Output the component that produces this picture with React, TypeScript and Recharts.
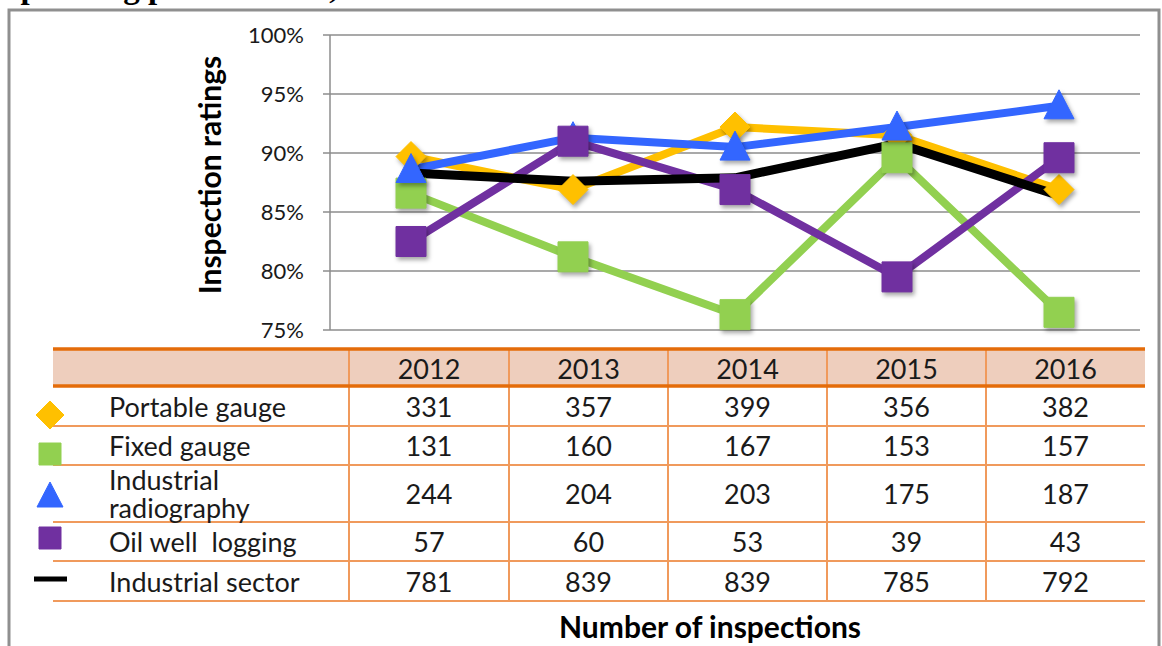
import React from "react";
import { LineChart, Line, XAxis, YAxis, CartesianGrid } from "recharts";

// chart values (percent)
const years = ["2012", "2013", "2014", "2015", "2016"];
const portableRating = [89.7, 86.9, 92.2, 91.5, 86.9];
const fixedRating = [86.6, 81.2, 76.3, 89.6, 76.5];
const radiographyRating = [88.6, 91.3, 90.5, 92.2, 94.0];
const oilRating = [82.5, 91.0, 86.9, 79.5, 89.6];
const sectorRating = [88.3, 87.6, 87.9, 90.8, 86.4];
const yTicks = [75, 80, 85, 90, 95, 100];

// table counts
const portableCount = [331, 357, 399, 356, 382];
const fixedCount = [131, 160, 167, 153, 157];
const radiographyCount = [244, 204, 203, 175, 187];
const oilCount = [57, 60, 53, 39, 43];
const sectorCount = [781, 839, 839, 785, 792];

const data = years.map((y, i) => ({
    year: y,
    portable: portableRating[i],
    fixed: fixedRating[i],
    radiography: radiographyRating[i],
    oil: oilRating[i],
    sector: sectorRating[i],
}));

const FONT = "Lato, 'DejaVu Sans', sans-serif";
const GRID = "#8c8c8c";
const ORANGE = "#e46c0a";
const ORANGE_LIGHT = "#f09a5c";
const shadow = { filter: "drop-shadow(2px 3px 2px rgba(0,0,0,0.35))" };

type Shape = "diamond" | "square" | "triangle";

const markerPath = (shape: Shape, cx: number, cy: number, r = 15) => {
    if (shape === "diamond") return `M${cx},${cy - r} L${cx + r},${cy} L${cx},${cy + r} L${cx - r},${cy} Z`;
    if (shape === "triangle") return `M${cx},${cy - r - 1} L${cx + r},${cy + r - 2} L${cx - r},${cy + r - 2} Z`;
    return `M${cx - r},${cy - r} h${2 * r} v${2 * r} h${-2 * r} Z`;
};

const makeDot = (shape: Shape, color: string) => (props: any) => {
    const { cx, cy, index } = props;
    if (cx == null || cy == null) return <g key={index} />;
    return (
        <path
            key={`${shape}-${index}`}
            d={markerPath(shape, cx, cy)}
            fill={color}
            stroke={color}
            strokeWidth={1}
            strokeLinejoin="round"
            style={shadow}
        />
    );
};

const series = [
    { key: "portable", name: "Portable gauge", color: "#ffc000", shape: "diamond" as Shape, counts: portableCount, legendY: 415, legendR: 14 },
    { key: "fixed", name: "Fixed gauge", color: "#92d050", shape: "square" as Shape, counts: fixedCount, legendY: 454, legendR: 11 },
    { key: "radiography", name: "Industrial\nradiography", color: "#3366ff", shape: "triangle" as Shape, counts: radiographyCount, legendY: 496, legendR: 13 },
    { key: "oil", name: "Oil well  logging", color: "#7030a0", shape: "square" as Shape, counts: oilCount, legendY: 538, legendR: 11 },
    { key: "sector", name: "Industrial sector", color: "#000000", shape: null, counts: sectorCount, legendY: 579, legendR: 0 },
];

// table geometry
const colEdges = [53, 349, 509, 668, 827, 986, 1145];
const rowLines = [386, 426, 465, 522, 561, 601];

const Table = () => {
    return (
        <g fontFamily={FONT} fill="#1a1a1a">
            <rect x={53} y={349} width={1092} height={37} fill="#eecebd" />
            {rowLines.slice(1).map((y) => (
                <line key={y} x1={53} x2={1145} y1={y} y2={y} stroke={ORANGE_LIGHT} strokeWidth={2} />
            ))}
            {colEdges.slice(1, 6).map((x) => (
                <line key={x} x1={x} x2={x} y1={348} y2={601} stroke={ORANGE_LIGHT} strokeWidth={2} />
            ))}
            <line x1={53} x2={1145} y1={349} y2={349} stroke={ORANGE} strokeWidth={3.5} />
            <line x1={53} x2={1145} y1={386} y2={386} stroke={ORANGE} strokeWidth={3.5} />
            {years.map((y, i) => (
                <text key={y} x={(colEdges[i + 1] + colEdges[i + 2]) / 2} y={368} textAnchor="middle" dominantBaseline="central" fontSize={27}>
                    {y}
                </text>
            ))}
            {series.map((s, r) => {
                const top = rowLines[r];
                const bottom = rowLines[r + 1];
                const mid = (top + bottom) / 2;
                const lines = s.name.split("\n");
                return (
                    <g key={s.key}>
                        {s.shape ? (
                            <path d={markerPath(s.shape, 50, s.legendY, s.legendR)} fill={s.color} stroke={s.color} strokeWidth={1} strokeLinejoin="round" />
                        ) : (
                            <rect x={34} y={s.legendY - 2.5} width={33} height={5} fill="#000" />
                        )}
                        {lines.map((t, j) => (
                            <text key={j} x={109} y={mid + (j - (lines.length - 1) / 2) * 28} dominantBaseline="central" fontSize={27} xmlSpace="preserve">
                                {t}
                            </text>
                        ))}
                        {s.counts.map((c, i) => (
                            <text key={i} x={(colEdges[i + 1] + colEdges[i + 2]) / 2} y={mid} textAnchor="middle" dominantBaseline="central" fontSize={27}>
                                {c}
                            </text>
                        ))}
                    </g>
                );
            })}
        </g>
    );
};

export default function App() {
    return (
        <div style={{ position: "absolute", left: 0, top: 0, width: 1162, height: 646, background: "#fff", overflow: "hidden" }}>
            <div style={{ position: "absolute", left: 0, top: 0 }}>
                <LineChart width={1162} height={646} data={data} margin={{ top: 35, right: 22, bottom: 316, left: 270 }}>
                    <CartesianGrid horizontal vertical={false} stroke={GRID} strokeWidth={1.5} />
                    <XAxis dataKey="year" hide padding={{ left: 81, right: 81 }} />
                    <YAxis
                        width={60}
                        domain={[75, 100]}
                        ticks={yTicks}
                        interval={0}
                        tickFormatter={(v: number) => `${v}%`}
                        tick={{ fill: "#1a1a1a", fontSize: 22, fontFamily: FONT }}
                        tickSize={7}
                        tickMargin={19}
                        axisLine={{ stroke: GRID, strokeWidth: 1.5 }}
                        tickLine={{ stroke: GRID, strokeWidth: 1.5 }}
                    />
                    {series.map((s) => (
                        <Line
                            key={s.key}
                            dataKey={s.key}
                            name={s.name}
                            stroke={s.color}
                            strokeWidth={s.shape ? 8 : 9}
                            strokeLinecap="round"
                            strokeLinejoin="round"
                            dot={s.shape ? makeDot(s.shape, s.color) : false}
                            activeDot={false}
                            isAnimationActive={false}
                        />
                    ))}
                </LineChart>
            </div>
            <svg width={1162} height={646} style={{ position: "absolute", left: 0, top: 0, pointerEvents: "none" }}>
                <text x={4} y={-2} fontFamily="'Liberation Serif', serif" fontWeight="bold" fontSize={33} fill="#000">
                    operating performance, 2012-2016
                </text>
                <path d="M9,646 V10 H1159 V646" fill="none" stroke="#8f8f8f" strokeWidth={3} />
                <text
                    transform="translate(209,175) rotate(-90)"
                    textAnchor="middle"
                    dominantBaseline="central"
                    fontFamily={FONT}
                    fontWeight="bold"
                    fontSize={30}
                    fill="#000"
                >
                    Inspection ratings
                </text>
                <Table />
                <text x={710} y={626} textAnchor="middle" dominantBaseline="central" fontFamily={FONT} fontWeight="bold" fontSize={30} fill="#000">
                    Number of inspections
                </text>
            </svg>
        </div>
    );
}
